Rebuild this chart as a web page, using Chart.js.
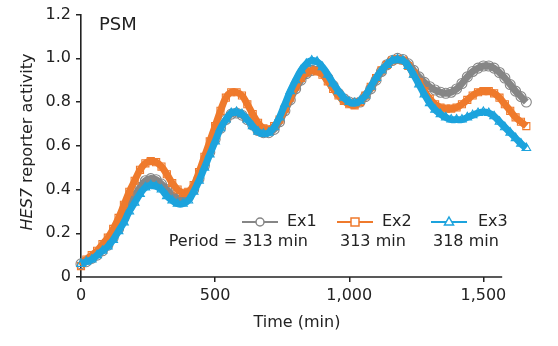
<!DOCTYPE html>
<html>
<head>
<meta charset="utf-8">
<script src="https://cdn.jsdelivr.net/npm/chart.js@4.4.1/dist/chart.umd.min.js"></script>
<style>
    body { margin: 0; background: #fff; }
    #wrap { width: 558px; height: 346px; position: relative; }
</style>
</head>
<body>
<div id="wrap"><canvas id="hesChart"></canvas></div>
<script>
// time points (min)
const timeMin = [0, 20, 40, 60, 80, 100, 120, 140, 160, 180, 200, 220, 240, 260, 280, 300, 320, 340, 360, 380,
    400, 420, 440, 460, 480, 500, 520, 540, 560, 580, 600, 620, 640, 660, 680, 700, 720, 740, 760, 780,
    800, 820, 840, 860, 880, 900, 920, 940, 960, 980, 1000, 1020, 1040, 1060, 1080, 1100, 1120, 1140, 1160, 1180,
    1200, 1220, 1240, 1260, 1280, 1300, 1320, 1340, 1360, 1380, 1400, 1420, 1440, 1460, 1480, 1500, 1520, 1540, 1560, 1580,
    1600, 1620, 1640, 1660];

const ex1 = [0.06, 0.07, 0.085, 0.10, 0.12, 0.145, 0.18, 0.22, 0.27, 0.32, 0.37, 0.41, 0.44, 0.45, 0.445, 0.425, 0.40, 0.375, 0.36, 0.355,
    0.365, 0.40, 0.45, 0.51, 0.57, 0.63, 0.68, 0.72, 0.745, 0.75, 0.74, 0.72, 0.695, 0.67, 0.66, 0.66, 0.675, 0.71, 0.76, 0.81,
    0.86, 0.90, 0.93, 0.945, 0.95, 0.94, 0.91, 0.875, 0.84, 0.815, 0.80, 0.795, 0.80, 0.825, 0.86, 0.90, 0.94, 0.97, 0.99, 1.0,
    0.995, 0.975, 0.945, 0.915, 0.89, 0.87, 0.855, 0.845, 0.84, 0.845, 0.86, 0.885, 0.915, 0.94, 0.955, 0.965, 0.965, 0.955, 0.935, 0.91,
    0.88, 0.85, 0.825, 0.80];

const ex2 = [0.05, 0.08, 0.10, 0.12, 0.15, 0.18, 0.22, 0.27, 0.33, 0.39, 0.44, 0.49, 0.52, 0.53, 0.525, 0.505, 0.47, 0.43, 0.40, 0.385,
    0.39, 0.42, 0.48, 0.55, 0.62, 0.69, 0.76, 0.82, 0.845, 0.845, 0.83, 0.79, 0.745, 0.705, 0.68, 0.675, 0.69, 0.72, 0.77, 0.82,
    0.87, 0.91, 0.935, 0.945, 0.94, 0.925, 0.895, 0.86, 0.83, 0.805, 0.79, 0.785, 0.80, 0.83, 0.87, 0.91, 0.945, 0.97, 0.99, 0.995,
    0.99, 0.965, 0.93, 0.89, 0.85, 0.815, 0.79, 0.775, 0.77, 0.77, 0.775, 0.79, 0.81, 0.83, 0.845, 0.85, 0.85, 0.84, 0.82, 0.79,
    0.76, 0.73, 0.71, 0.69];

const ex3 = [0.06, 0.07, 0.08, 0.10, 0.12, 0.14, 0.17, 0.21, 0.25, 0.30, 0.34, 0.38, 0.41, 0.42, 0.415, 0.40, 0.37, 0.35, 0.335, 0.335,
    0.35, 0.39, 0.44, 0.50, 0.56, 0.62, 0.68, 0.72, 0.75, 0.755, 0.745, 0.72, 0.69, 0.665, 0.655, 0.66, 0.685, 0.73, 0.79, 0.85,
    0.90, 0.945, 0.975, 0.99, 0.985, 0.96, 0.925, 0.885, 0.85, 0.82, 0.80, 0.795, 0.805, 0.83, 0.87, 0.91, 0.945, 0.97, 0.99, 0.995,
    0.99, 0.965, 0.925, 0.88, 0.835, 0.795, 0.765, 0.745, 0.73, 0.72, 0.72, 0.72, 0.73, 0.74, 0.75, 0.755, 0.75, 0.735, 0.71, 0.685,
    0.66, 0.635, 0.61, 0.59];

const seriesNames = ['Ex1', 'Ex2', 'Ex3'];
const periodLabels = ['Period = 313 min', '313 min', '318 min'];
const xTickValues = [0, 500, 1000, 1500];
const yTickValues = [0, 0.2, 0.4, 0.6, 0.8, 1.0, 1.2];
const yTickLabels = ['0', '0.2', '0.4', '0.6', '0.8', '1.0', '1.2'];

const colors = ['#868686', '#ef7a2c', '#1ca3dd'];
const markers = ['circle', 'rect', 'triangle'];
const FONT = '"DejaVu Sans", sans-serif';
const INK = '#222';

function makeSet(i, values) {
    return {
        label: seriesNames[i],
        data: timeMin.map((t, k) => ({ x: t, y: values[k] })),
        borderColor: colors[i],
        borderWidth: 7,
        pointStyle: markers[i],
        pointRadius: 5,
        pointBorderWidth: 1.1,
        pointBorderColor: colors[i],
        pointBackgroundColor: 'rgba(255,255,255,0)',
        tension: 0.4,
        order: 2 - i,
        clip: false
    };
}

// axis line, titles, panel label and legend
const decorPlugin = {
    id: 'decor',
    afterDraw(chart) {
        const ctx = chart.ctx;
        const xs = chart.scales.x, ys = chart.scales.y;
        const y0 = ys.getPixelForValue(0);
        ctx.save();
        // x axis line stops near 1,570 min
        ctx.strokeStyle = INK;
        ctx.lineWidth = 1.6;
        ctx.beginPath();
        ctx.moveTo(xs.getPixelForValue(0) - 1, y0);
        ctx.lineTo(xs.getPixelForValue(1570), y0);
        ctx.stroke();

        ctx.fillStyle = INK;
        // x title
        ctx.font = '16px ' + FONT;
        ctx.textAlign = 'center';
        ctx.textBaseline = 'middle';
        ctx.fillText('Time (min)', 297, 323);

        // y title, HES7 in italics
        ctx.save();
        ctx.translate(28, 142);
        ctx.rotate(-Math.PI / 2);
        ctx.textAlign = 'left';
        ctx.font = 'italic 16px ' + FONT;
        const w1 = ctx.measureText('HES7').width;
        ctx.font = '16px ' + FONT;
        const w2 = ctx.measureText(' reporter activity').width;
        let sx = -(w1 + w2) / 2;
        ctx.font = 'italic 16px ' + FONT;
        ctx.fillText('HES7', sx, 0);
        ctx.font = '16px ' + FONT;
        ctx.fillText(' reporter activity', sx + w1, 0);
        ctx.restore();

        // panel label
        ctx.font = '18px ' + FONT;
        ctx.textAlign = 'left';
        ctx.fillText('PSM', 99, 25);

        // legend
        const symX = [260, 355, 449];
        const textX = [287, 382, 478];
        const rowY = 222;
        ctx.font = '16px ' + FONT;
        for (let i = 0; i < 3; i++) {
            ctx.strokeStyle = colors[i];
            ctx.lineWidth = 2;
            ctx.beginPath();
            ctx.moveTo(symX[i] - 18, rowY);
            ctx.lineTo(symX[i] + 18, rowY);
            ctx.stroke();
            ctx.lineWidth = 1.5;
            ctx.fillStyle = '#fff';
            ctx.beginPath();
            if (markers[i] === 'circle') {
                ctx.arc(symX[i], rowY, 4, 0, Math.PI * 2);
            } else if (markers[i] === 'rect') {
                ctx.rect(symX[i] - 4, rowY - 4, 8, 8);
            } else {
                ctx.moveTo(symX[i], rowY - 5);
                ctx.lineTo(symX[i] + 4.5, rowY + 3);
                ctx.lineTo(symX[i] - 4.5, rowY + 3);
                ctx.closePath();
            }
            ctx.fill();
            ctx.stroke();
            ctx.fillStyle = INK;
            ctx.textAlign = 'left';
            ctx.fillText(seriesNames[i], textX[i], rowY);
        }
        ctx.textAlign = 'right';
        ctx.fillText(periodLabels[0], 308, 242);
        ctx.textAlign = 'left';
        ctx.fillText(periodLabels[1], 340, 242);
        ctx.fillText(periodLabels[2], 433, 242);
        ctx.restore();
    }
};

new Chart(document.getElementById('hesChart'), {
    type: 'line',
    data: {
        datasets: [makeSet(0, ex1), makeSet(1, ex2), makeSet(2, ex3)]
    },
    options: {
        responsive: true,
        maintainAspectRatio: false,
        animation: false,
        layout: { padding: { top: 13, right: 29, left: 0, bottom: 0 } },
        plugins: {
            legend: { display: false },
            tooltip: { enabled: false }
        },
        scales: {
            x: {
                type: 'linear',
                min: 0,
                max: 1670,
                afterFit: s => { s.height = 69; },
                afterBuildTicks: s => { s.ticks = xTickValues.map(v => ({ value: v })); },
                border: { display: false },
                grid: { drawOnChartArea: false, drawTicks: true, tickLength: 5, color: INK, lineWidth: 1.5 },
                ticks: {
                    padding: 4,
                    color: INK,
                    font: { family: FONT, size: 16 },
                    maxRotation: 0,
                    callback: v => v.toLocaleString('en-US')
                }
            },
            y: {
                min: 0,
                max: 1.2,
                afterFit: s => { s.width = 81; },
                afterBuildTicks: s => { s.ticks = yTickValues.map(v => ({ value: v })); },
                border: { display: true, color: INK, width: 1.6 },
                grid: { drawOnChartArea: false, drawTicks: true, tickLength: 5, color: INK, lineWidth: 1.5 },
                ticks: {
                    padding: 5,
                    color: INK,
                    font: { family: FONT, size: 16 },
                    callback: (v, idx) => yTickLabels[idx]
                }
            }
        }
    },
    plugins: [decorPlugin]
});
</script>
</body>
</html>
